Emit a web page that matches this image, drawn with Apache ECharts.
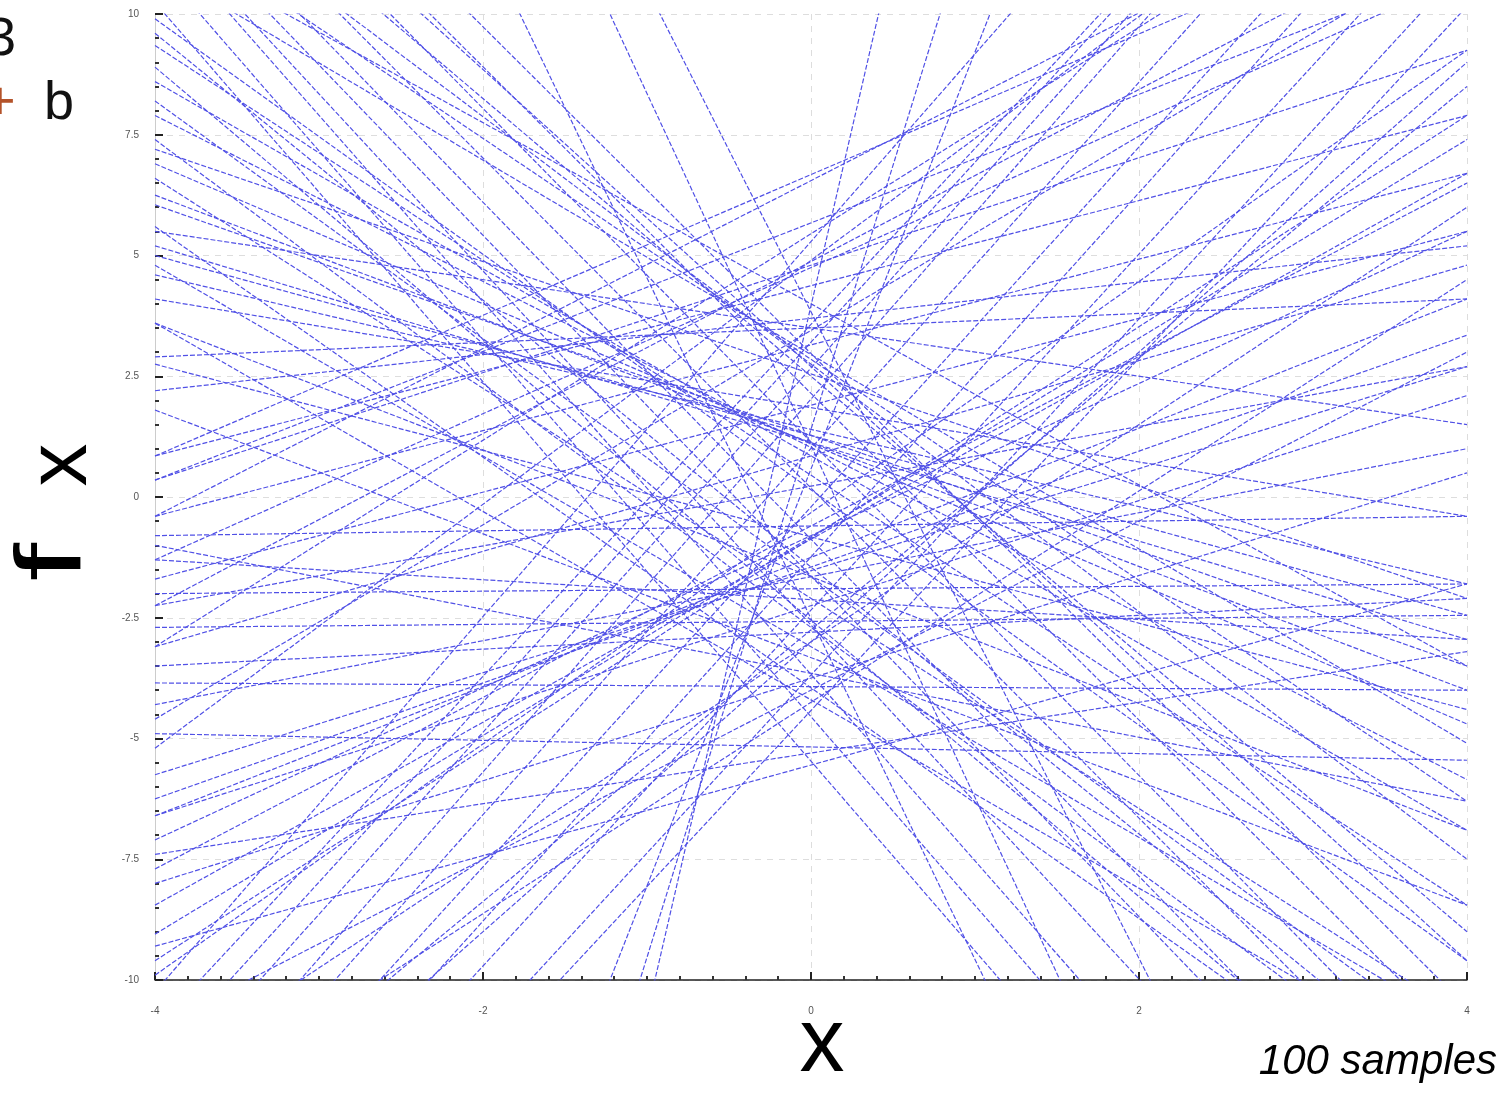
<!DOCTYPE html>
<html>
<head>
<meta charset="utf-8">
<script src="https://cdn.jsdelivr.net/npm/echarts@6/dist/echarts.min.js"></script>
<style>
  html, body { margin: 0; padding: 0; background: #fff; }
  #chart { width: 1497px; height: 1097px; }
</style>
</head>
<body>
<div id="chart"></div>
<script>
// x range of every sampled line
const xEnds = [-4, 4]

// value of each line at x = -4
const leftEnds = [
  9.9, 9.35, 8.6, 7.9, 6.9, 6.25, 6.05, 5.2, 5.0, 4.6,
  4.1, 2.75, 2.9, -9.9, -9.6, -9.05, -8.45, -7.7, -7.1, -6.6,
  -6.25, -5.75, -4.3, -3.85, -3.5, -3.1, -2.7, -2.25, -2.0, -1.7,
  -1.3, -0.8, -0.4, 0.35, 0.85, 10.24, 11.07, 11.76, 12.01, 12.47,
  13.08, 13.85, 14.95, 15.67, 16.5, 25.7, 30.22, 30.61, -10.24, -11.0,
  -11.7, -12.41, -13.41, -14.16, -15.11, -16.32, -17.08, -18.43, -19.0, -33.95,
  -42.32, -54.69, 9.6, 8.9, 8.2, 7.4, 6.6, 5.6, 4.8, 3.6,
  0.85, 0.35, -0.4, -1.3, -2.25, -3.1, -4.6, -5.2, -12.0, -14.0,
  -11.0, -13.0, -15.0, 12.0, 14.0, 11.0, 13.0, 15.0, 11.5, 3.6,
  -6.6, 1.8, -8.0, 7.2, -4.9, -1.0, 2.2, -9.3, 5.5, -7.4
]

// value of each line at x = 4
const rightEnds = [
  -9.6, -8.45, -6.9, -5.85, -4.7, -4.0, -3.5, -2.95, -2.45, -1.8,
  -0.4, -4.4, 4.1, 9.25, 7.9, 7.4, 6.7, 6.5, 5.5, 4.1,
  3.35, 2.7, 1.0, -4.0, -2.1, 4.8, -2.45, 2.7, -1.8, 5.5,
  -2.95, -0.4, 6.7, 9.25, 7.9, -21.18, -20.17, -19.11, -17.31, -15.74,
  -14.83, -13.48, -12.67, -11.38, -10.56, -30.74, -28.09, -22.94, 20.82, 18.15,
  18.11, 17.75, 17.46, 16.17, 14.7, 13.84, 12.4, 11.06, 10.16, 35.11,
  45.12, 62.61, -12.5, -14.0, -11.5, -12.8, -10.8, -13.5, -11.0, -12.0,
  12.5, 11.0, 13.5, 10.8, 12.0, 14.0, 11.5, 15.0, 6.0, 8.5,
  3.0, 4.5, 9.0, -6.3, -9.0, -5.1, -7.5, -9.6, -3.5, -6.9,
  2.1, -8.45, 0.5, -2.1, -5.45, -6.3, 5.2, -1.8, 1.5, -3.2
]

const yTicks = { min: -10, max: 10, step: 2.5 }
const xTicks = { min: -4, max: 4, step: 2 }

const chart = echarts.init(document.getElementById('chart'))

const lineColor = 'rgb(80, 80, 230)'
const series = []
for (let i = 0; i < leftEnds.length; i++) {
  series.push({
    type: 'line',
    silent: true,
    symbol: 'none',
    clip: true,
    color: lineColor,
    lineStyle: {
      color: lineColor,
      width: 1.2,
      type: [5, 2]
    },
    data: [[xEnds[0], leftEnds[i]], [xEnds[1], rightEnds[i]]]
  })
}

const font = '"Liberation Sans", Arial, sans-serif'

chart.setOption({
  animation: false,
  backgroundColor: '#fff',
  grid: {
    left: 155,
    right: 30,
    top: 14,
    bottom: 117
  },
  xAxis: {
    type: 'value',
    min: xTicks.min,
    max: xTicks.max,
    interval: xTicks.step,
    axisLine: { onZero: false, lineStyle: { color: '#222', width: 1.5 } },
    axisTick: { inside: true, length: 8, lineStyle: { color: '#222', width: 2 } },
    minorTick: { show: true, splitNumber: 10, length: 4, lineStyle: { color: '#333', width: 2 } },
    axisLabel: { margin: 26, fontSize: 10, color: '#555', fontFamily: font },
    splitLine: { show: true, lineStyle: { color: '#ddd', type: [6, 6] } }
  },
  yAxis: {
    type: 'value',
    min: yTicks.min,
    max: yTicks.max,
    interval: yTicks.step,
    axisLine: { show: true, onZero: false, lineStyle: { color: '#ccc', width: 1 } },
    axisTick: { show: true, inside: true, length: 8, lineStyle: { color: '#222', width: 2 } },
    minorTick: { show: true, splitNumber: 5, length: 4, lineStyle: { color: '#333', width: 2 } },
    axisLabel: { margin: 16, fontSize: 10, color: '#555', fontFamily: font },
    splitLine: { show: true, lineStyle: { color: '#ddd', type: [6, 6] } }
  },
  graphic: [
    { type: 'text', x: -14, y: 40, style: { text: '3', font: '54px ' + font, fill: '#111', verticalAlign: 'middle' } },
    { type: 'text', x: -16, y: 104, style: { text: '+', font: '54px ' + font, fill: '#b4532a', verticalAlign: 'middle' } },
    { type: 'text', x: 44, y: 104, style: { text: 'b', font: '54px ' + font, fill: '#111', verticalAlign: 'middle' } },
    { type: 'text', x: 62, y: 465, rotation: Math.PI / 2, style: { text: 'x', font: '86px ' + font, fill: '#000', align: 'center', verticalAlign: 'middle' } },
    { type: 'text', x: 55, y: 562, rotation: Math.PI / 2, scaleX: 1.5, style: { text: 'f', font: '92px ' + font, fill: '#000', align: 'center', verticalAlign: 'middle' } },
    { type: 'text', x: 822, y: 1046, style: { text: 'x', font: '90px ' + font, fill: '#000', align: 'center', verticalAlign: 'middle' } },
    { type: 'text', x: 1497, y: 1062, style: { text: '100 samples', font: 'italic 42px ' + font, fill: '#000', align: 'right', verticalAlign: 'middle' } }
  ],
  series: series
})
</script>
</body>
</html>
